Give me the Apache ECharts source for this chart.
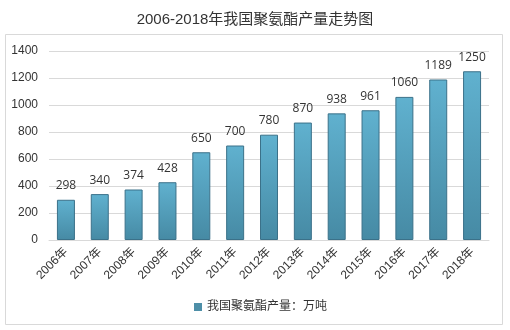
<!DOCTYPE html>
<html>
<head>
<meta charset="utf-8">
<script src="https://cdn.jsdelivr.net/npm/echarts@6/dist/echarts.min.js"></script>
<style>
html,body{margin:0;padding:0;background:#fff;}
#chart{width:510px;height:330px;}
</style>
</head>
<body>
<div id="chart"></div>
<script>
// Annual polyurethane output in China, 2006-2018 (unit: 10k tonnes)
const years = ['2006年','2007年','2008年','2009年','2010年','2011年','2012年','2013年','2014年','2015年','2016年','2017年','2018年'];
const output = [298, 340, 374, 428, 650, 700, 780, 870, 938, 961, 1060, 1189, 1250];
const seriesName = '我国聚氨酯产量：万吨';
const yTicks = { min: 0, max: 1400, interval: 200 };

const chart = echarts.init(document.getElementById('chart'), null, { renderer: 'canvas' });
const fontCJK = '"Liberation Sans", Arial, "Noto Sans CJK SC", sans-serif';

chart.setOption({
  backgroundColor: '#ffffff',
  animation: false,
  title: {
    text: '2006-2018年我国聚氨酯产量走势图',
    left: 'center',
    top: 7,
    textStyle: { fontSize: 15, fontWeight: 'normal', color: '#333', fontFamily: fontCJK }
  },
  graphic: [{
    type: 'rect',
    shape: { x: 5.5, y: 34.5, width: 497, height: 290 },
    style: { fill: 'none', stroke: '#d9d9d9', lineWidth: 1 },
    z: -1
  }],
  grid: { left: 49, right: 21, top: 51, bottom: 90 },
  legend: {
    data: [seriesName],
    left: 189,
    top: 296,
    itemWidth: 8,
    itemHeight: 8,
    itemGap: 4,
    itemStyle: { borderWidth: 0, color: '#4e8fa8' },
    textStyle: { fontSize: 12, color: '#333', fontFamily: fontCJK },
    icon: 'rect'
  },
  xAxis: {
    type: 'category',
    data: years,
    axisLine: { lineStyle: { color: '#d9d9d9' } },
    axisTick: { show: false },
    axisLabel: { rotate: 45, fontSize: 12, color: '#333', margin: 10, fontFamily: fontCJK }
  },
  yAxis: {
    type: 'value',
    min: yTicks.min,
    max: yTicks.max,
    interval: yTicks.interval,
    axisLine: { show: false },
    axisTick: { show: false },
    splitLine: { lineStyle: { color: '#d9d9d9' } },
    axisLabel: {
      fontSize: 12, color: '#333', margin: 11, fontFamily: fontCJK,
      formatter: v => String(v)
    }
  },
  series: [{
    name: seriesName,
    type: 'bar',
    data: output,
    barWidth: 18,
    itemStyle: {
      color: new echarts.graphic.LinearGradient(0, 0, 0, 1, [
        { offset: 0, color: '#60b1cf' },
        { offset: 1, color: '#468aa4' }
      ]),
      borderColor: '#3b7189',
      borderWidth: 1
    },
    label: {
      show: true,
      position: 'top',
      distance: 8,
      fontSize: 12,
      color: '#333',
      fontFamily: '"Open Sans", "Noto Sans", sans-serif'
    }
  }]
});
</script>
</body>
</html>
